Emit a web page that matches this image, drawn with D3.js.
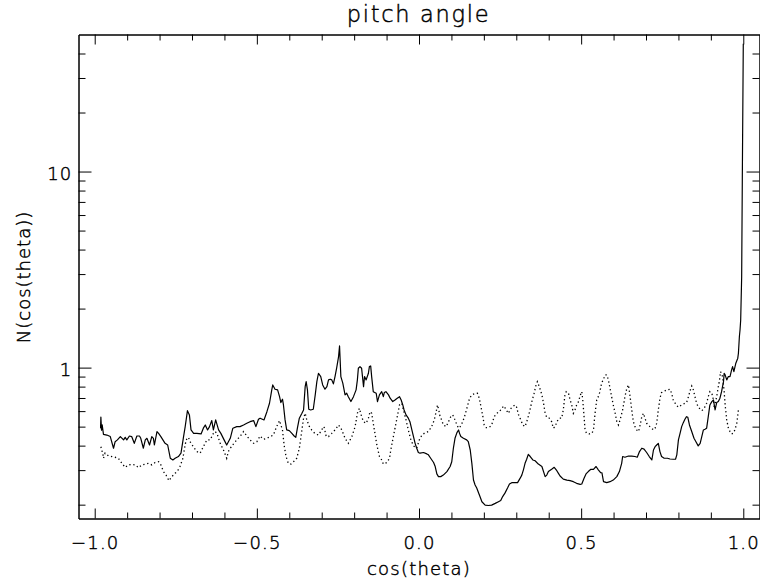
<!DOCTYPE html>
<html>
<head>
<meta charset="utf-8">
<script src="https://cdn.jsdelivr.net/npm/d3@7"></script>
<style>
  html, body { margin: 0; padding: 0; background: #fff; }
  svg { display: block; }
  text { font-family: "DejaVu Sans", sans-serif; font-weight: 200; fill: #000; stroke: #000; stroke-width: 0.45px; }
</style>
</head>
<body>
<svg id="chart" width="760" height="584"></svg>
<script>
// Distribution of cos(pitch angle): solid and dotted curves
const solidCos = [-0.982,-0.981,-0.979,-0.977,-0.973,-0.9625,-0.952,-0.942,-0.937,-0.930,-0.921,-0.911,-0.906,-0.901,-0.893,-0.886,-0.878,-0.870,-0.862,-0.858,-0.850,-0.844,-0.839,-0.831,-0.824,-0.819,-0.816,-0.808,-0.803,-0.796,-0.783,-0.775,-0.767,-0.759,-0.752,-0.742,-0.734,-0.726,-0.721,-0.714,-0.708,-0.703,-0.695,-0.685,-0.672,-0.665,-0.659,-0.652,-0.646,-0.639,-0.634,-0.627,-0.618,-0.611,-0.601,-0.593,-0.582,-0.574,-0.562,-0.552,-0.541,-0.531,-0.521,-0.510,-0.503,-0.495,-0.490,
-0.478,-0.469,-0.461,-0.454,-0.451,-0.444,-0.436,-0.430,-0.426,-0.421,-0.418,-0.413,-0.408,-0.400,-0.392,-0.385,-0.380,-0.375,-0.369,-0.361,-0.356,-0.351,-0.348,-0.344,-0.340,-0.334,-0.326,-0.320,-0.315,-0.310,-0.303,-0.297,-0.290,-0.284,-0.279,-0.274,-0.269,-0.264,-0.259,-0.254,-0.248,-0.245,-0.241,-0.235,-0.228,-0.223,-0.218,-0.210,-0.202,-0.194,-0.190,-0.187,-0.182,-0.177,-0.171,-0.168,-0.163,-0.156,-0.153,-0.149,-0.146,-0.141,-0.132,-0.128,-0.122,-0.115,-0.110,-0.107,-0.102,-0.094,-0.089,-0.081,-0.074,-0.067,-0.060,-0.055,-0.050,-0.046,-0.040,-0.033,-0.028,-0.022,-0.017,-0.012,-0.007,-0.002,0.003,
0.014,0.024,0.029,0.036,0.045,0.050,0.055,0.060,0.067,0.075,0.086,0.096,0.101,0.106,0.111,0.117,0.122,0.125,0.129,0.137,0.147,0.152,0.158,0.163,0.168,0.173,0.178,0.188,0.194,0.204,0.214,0.224,0.235,0.245,0.252,0.258,0.265,0.273,0.279,0.286,0.293,0.304,0.312,0.317,0.322,0.327,0.332,0.337,0.343,0.351,0.358,0.368,0.379,0.389,0.394,0.399,0.409,0.417,0.425,0.430,0.435,0.445,0.456,0.466,0.476,0.486,0.497,
0.502,0.509,0.515,0.522,0.530,0.538,0.546,0.553,0.560,0.564,0.569,0.579,0.589,0.599,0.610,0.618,0.625,0.628,0.635,0.646,0.656,0.666,0.673,0.680,0.687,0.694,0.702,0.710,0.718,0.723,0.728,0.733,0.738,0.743,0.748,0.756,0.766,0.774,0.784,0.791,0.795,0.800,0.805,0.810,0.815,0.820,0.825,0.829,0.834,0.841,0.848,0.854,0.861,0.867,0.872,0.877,0.882,0.887,0.892,0.897,0.903,0.908,0.913,0.918,0.923,0.928,0.933,0.939,0.941,0.944,0.949,0.954,0.959,0.964,0.967,0.971,0.977,0.983,0.985,0.988,0.990,0.992,0.995,0.997,1.000];
const solidN = [0.49,0.56,0.48,0.51,0.457,0.453,0.445,0.388,0.419,0.428,0.445,0.428,0.441,0.428,0.448,0.445,0.411,0.448,0.448,0.436,0.388,0.428,0.436,0.403,0.445,0.436,0.403,0.472,0.462,0.445,0.411,0.403,0.345,0.338,0.345,0.352,0.366,0.445,0.500,0.603,0.574,0.481,0.462,0.462,0.459,0.491,0.510,0.481,0.500,0.537,0.481,0.541,0.481,0.462,0.428,0.403,0.436,0.491,0.500,0.500,0.510,0.520,0.530,0.537,0.500,0.545,0.552,
0.541,0.596,0.658,0.770,0.816,0.776,0.770,0.711,0.663,0.690,0.645,0.541,0.481,0.477,0.462,0.448,0.441,0.491,0.552,0.585,0.608,0.800,0.848,0.770,0.613,0.608,0.613,0.726,0.848,0.936,0.900,0.816,0.776,0.800,0.866,0.873,0.866,0.826,0.900,0.993,1.138,1.290,0.900,0.833,0.726,0.740,0.711,0.671,0.711,0.770,0.866,0.993,1.012,0.993,0.800,0.900,0.866,0.936,1.012,1.020,0.900,0.754,0.740,0.671,0.726,0.754,0.711,0.746,0.754,0.726,0.698,0.671,0.684,0.698,0.711,0.684,0.645,0.608,0.574,0.552,0.530,0.481,0.445,0.411,0.388,0.369,0.366,
0.369,0.363,0.359,0.345,0.328,0.313,0.287,0.278,0.278,0.283,0.295,0.313,0.331,0.388,0.436,0.466,0.481,0.462,0.445,0.436,0.428,0.419,0.380,0.325,0.267,0.252,0.243,0.220,0.207,0.199,0.198,0.199,0.203,0.207,0.210,0.220,0.229,0.243,0.255,0.259,0.259,0.259,0.273,0.283,0.301,0.325,0.341,0.361,0.352,0.338,0.335,0.322,0.313,0.278,0.283,0.295,0.303,0.310,0.298,0.289,0.280,0.270,0.267,0.265,0.262,0.257,0.254,
0.255,0.273,0.287,0.295,0.303,0.303,0.313,0.301,0.291,0.291,0.262,0.259,0.262,0.267,0.278,0.295,0.325,0.352,0.349,0.354,0.354,0.352,0.349,0.373,0.388,0.384,0.369,0.352,0.338,0.380,0.395,0.403,0.411,0.373,0.352,0.345,0.345,0.342,0.341,0.341,0.359,0.428,0.462,0.500,0.524,0.545,0.562,0.558,0.510,0.472,0.436,0.419,0.399,0.411,0.445,0.481,0.485,0.491,0.562,0.645,0.671,0.684,0.608,0.663,0.671,0.698,0.754,0.848,0.936,0.918,0.866,0.900,0.900,0.973,1.012,0.954,1.053,1.117,1.184,1.44,1.56,1.75,2.9,9.07,44.8];

const dottedCos = [-0.981,-0.975,-0.973,-0.968,-0.957,-0.947,-0.937,-0.927,-0.916,-0.906,-0.896,-0.886,-0.875,-0.865,-0.855,-0.844,-0.834,-0.824,-0.814,-0.803,-0.796,-0.788,-0.780,-0.771,-0.762,-0.752,-0.744,-0.737,-0.728,-0.723,-0.718,-0.711,-0.706,-0.695,-0.685,-0.675,-0.665,-0.654,-0.644,-0.634,-0.629,-0.623,-0.613,-0.603,-0.593,-0.588,-0.582,-0.572,-0.562,-0.552,-0.541,-0.531,-0.521,-0.510,-0.500,-0.490,
-0.480,-0.469,-0.459,-0.449,-0.439,-0.430,-0.426,-0.421,-0.416,-0.410,-0.403,-0.395,-0.387,-0.377,-0.369,-0.361,-0.356,-0.351,-0.346,-0.338,-0.331,-0.320,-0.310,-0.303,-0.297,-0.293,-0.286,-0.279,-0.269,-0.259,-0.248,-0.238,-0.228,-0.218,-0.207,-0.197,-0.190,-0.184,-0.177,-0.171,-0.163,-0.156,-0.151,-0.146,-0.141,-0.135,-0.130,-0.122,-0.115,-0.110,-0.099,-0.091,-0.087,-0.081,-0.074,-0.069,-0.060,-0.053,-0.048,-0.040,-0.033,-0.025,-0.017,-0.007,0.001,
0.009,0.019,0.029,0.039,0.047,0.053,0.057,0.061,0.065,0.070,0.075,0.084,0.091,0.098,0.104,0.111,0.117,0.122,0.127,0.135,0.142,0.149,0.156,0.163,0.173,0.180,0.186,0.190,0.197,0.201,0.207,0.217,0.224,0.232,0.240,0.248,0.255,0.262,0.269,0.276,0.281,0.289,0.296,0.301,0.307,0.314,0.320,0.327,0.334,0.341,0.348,0.355,0.361,0.365,0.371,0.379,0.384,0.389,0.394,0.402,0.409,0.414,0.420,0.425,0.433,0.440,0.445,0.450,0.454,0.461,0.466,0.471,0.476,0.481,0.486,0.492,0.497,
0.502,0.505,0.509,0.512,0.517,0.525,0.533,0.538,0.543,0.548,0.553,0.558,0.563,0.569,0.574,0.579,0.584,0.589,0.594,0.599,0.605,0.610,0.615,0.620,0.628,0.635,0.641,0.646,0.651,0.656,0.661,0.666,0.671,0.677,0.682,0.687,0.692,0.697,0.702,0.712,0.723,0.728,0.733,0.738,0.743,0.748,0.754,0.764,0.774,0.779,0.784,0.793,0.800,0.810,0.820,0.825,0.831,0.836,0.841,0.846,0.851,0.856,0.861,0.867,0.872,0.877,0.882,0.887,0.892,0.897,0.903,0.908,0.911,0.913,0.918,0.923,0.926,0.930,0.936,0.941,0.944,0.949,0.954,0.959,0.964,0.969,0.974,0.980,0.985,0.988];
const dottedN = [0.395,0.363,0.345,0.366,0.354,0.352,0.349,0.345,0.325,0.310,0.319,0.321,0.319,0.309,0.319,0.322,0.325,0.319,0.328,0.331,0.319,0.295,0.283,0.265,0.278,0.289,0.298,0.313,0.345,0.388,0.428,0.441,0.419,0.393,0.373,0.366,0.395,0.428,0.428,0.462,0.472,0.462,0.411,0.380,0.345,0.373,0.388,0.408,0.428,0.445,0.472,0.448,0.428,0.411,0.419,0.448,
0.431,0.436,0.445,0.453,0.500,0.537,0.510,0.481,0.403,0.352,0.325,0.322,0.331,0.345,0.388,0.481,0.552,0.585,0.541,0.500,0.481,0.459,0.453,0.472,0.491,0.500,0.445,0.445,0.462,0.481,0.510,0.481,0.436,0.411,0.445,0.500,0.585,0.620,0.563,0.530,0.520,0.552,0.596,0.585,0.520,0.453,0.403,0.352,0.338,0.322,0.328,0.345,0.380,0.428,0.491,0.541,0.645,0.658,0.608,0.541,0.481,0.428,0.399,0.388,0.428,
0.453,0.466,0.472,0.500,0.541,0.596,0.645,0.608,0.562,0.541,0.510,0.500,0.530,0.562,0.574,0.541,0.510,0.491,0.500,0.530,0.574,0.632,0.698,0.726,0.740,0.740,0.698,0.645,0.562,0.510,0.494,0.496,0.510,0.562,0.585,0.596,0.620,0.638,0.608,0.585,0.613,0.632,0.645,0.628,0.574,0.541,0.510,0.500,0.541,0.596,0.671,0.740,0.816,0.848,0.800,0.726,0.658,0.585,0.558,0.552,0.530,0.491,0.500,0.530,0.552,0.552,0.608,0.726,0.754,0.740,0.684,0.645,0.585,0.608,0.645,0.671,0.720,
0.754,0.684,0.562,0.481,0.462,0.459,0.462,0.481,0.585,0.684,0.711,0.754,0.833,0.873,0.918,0.918,0.866,0.785,0.711,0.645,0.585,0.530,0.510,0.541,0.608,0.711,0.785,0.816,0.711,0.608,0.530,0.500,0.481,0.472,0.510,0.562,0.585,0.552,0.520,0.500,0.481,0.491,0.520,0.608,0.698,0.746,0.754,0.770,0.776,0.740,0.684,0.645,0.628,0.645,0.658,0.663,0.711,0.763,0.806,0.770,0.711,0.658,0.632,0.613,0.603,0.613,0.632,0.658,0.711,0.754,0.740,0.684,0.620,0.653,0.711,0.800,0.848,0.954,0.900,0.754,0.645,0.541,0.491,0.472,0.459,0.462,0.481,0.520,0.608,0.613];

// Axis ticks and labels
const xMajorTicks = [-1.0, -0.5, 0.0, 0.5, 1.0];
const xMinorTicks = [-0.9, -0.8, -0.7, -0.6, -0.4, -0.3, -0.2, -0.1, 0.1, 0.2, 0.3, 0.4, 0.6, 0.7, 0.8, 0.9];
const yMajorTicks = [1, 10];
const yMinorTicks = [0.2, 0.3, 0.4, 0.5, 0.6, 0.7, 0.8, 0.9, 2, 3, 4, 5, 6, 7, 8, 9, 20, 30, 40];
const titleText = "pitch angle";
const xTitle = "cos(theta)";
const yTitle = "N(cos(theta))";

const svg = d3.select("#chart");
const plotLeft = 78.5, plotRight = 759.5, plotTop = 34.5, plotBottom = 518.5;

const x = d3.scaleLinear().domain([-1.05, 1.05]).range([plotLeft, plotRight]);
const y = d3.scaleLog().domain([0.17, 50]).range([plotBottom, plotTop]);

const fontSize = 18;
const tickFont = g => g.selectAll("text")
  .attr("font-size", fontSize)
  .attr("letter-spacing", 1.2)
  .style("font-family", '"DejaVu Sans", sans-serif')
  .style("font-weight", 200)
  .attr("fill", "#000")
  .attr("stroke", "#000")
  .attr("stroke-width", 0.45);

const styleAxis = g => {
  g.select(".domain").attr("stroke", "#000").attr("stroke-width", 1);
  g.selectAll(".tick line").attr("stroke", "#000").attr("stroke-width", 1);
};

// Bottom axis: ticks point inward (up), labels below
svg.append("g").attr("transform", `translate(0,${plotBottom})`)
  .call(d3.axisBottom(x).tickValues(xMinorTicks).tickSizeInner(-6).tickSizeOuter(0).tickFormat(""))
  .call(styleAxis);
svg.append("g").attr("transform", `translate(0,${plotBottom})`)
  .call(d3.axisBottom(x).tickValues(xMajorTicks).tickSizeInner(-10).tickSizeOuter(0)
        .tickPadding(30.5).tickFormat(d3.format(".1f")))
  .call(styleAxis).call(tickFont)
  .call(g => g.selectAll("text").attr("dy", "0"));

// Top axis: ticks only, pointing down
svg.append("g").attr("transform", `translate(0,${plotTop})`)
  .call(d3.axisTop(x).tickValues(xMinorTicks).tickSizeInner(-6).tickSizeOuter(0).tickFormat(""))
  .call(styleAxis);
svg.append("g").attr("transform", `translate(0,${plotTop})`)
  .call(d3.axisTop(x).tickValues(xMajorTicks).tickSizeInner(-10).tickSizeOuter(0).tickFormat(""))
  .call(styleAxis);

// Left axis: ticks point right, labels to the left
svg.append("g").attr("transform", `translate(${plotLeft},0)`)
  .call(d3.axisLeft(y).tickValues(yMinorTicks).tickSizeInner(-7).tickSizeOuter(0).tickFormat(""))
  .call(styleAxis);
svg.append("g").attr("transform", `translate(${plotLeft},0)`)
  .call(d3.axisLeft(y).tickValues(yMajorTicks).tickSizeInner(-13).tickSizeOuter(0)
        .tickPadding(6).tickFormat(d3.format("d")))
  .call(styleAxis).call(tickFont)
  .call(g => g.selectAll("text").attr("dy", "0.45em"));

// Right axis: ticks only, pointing left
svg.append("g").attr("transform", `translate(${plotRight},0)`)
  .call(d3.axisRight(y).tickValues(yMinorTicks).tickSizeInner(-7).tickSizeOuter(0).tickFormat(""))
  .call(styleAxis);
svg.append("g").attr("transform", `translate(${plotRight},0)`)
  .call(d3.axisRight(y).tickValues(yMajorTicks).tickSizeInner(-13).tickSizeOuter(0).tickFormat(""))
  .call(styleAxis);

// Curves
const solid = solidCos.map((c, i) => [c, solidN[i]]);
const dotted = dottedCos.map((c, i) => [c, dottedN[i]]);
const line = d3.line().defined(d => d[1] > 0).x(d => x(d[0])).y(d => y(d[1]));

svg.append("defs").append("clipPath").attr("id", "plotClip")
  .append("rect").attr("x", plotLeft).attr("y", plotTop)
  .attr("width", plotRight - plotLeft).attr("height", plotBottom - plotTop);

const plot = svg.append("g").attr("clip-path", "url(#plotClip)");
plot.append("path").datum(dotted)
  .attr("d", line).attr("fill", "none").attr("stroke", "#000")
  .attr("stroke-width", 1.3).attr("stroke-dasharray", "1.3,2.7");
plot.append("path").datum(solid)
  .attr("d", line).attr("fill", "none").attr("stroke", "#000")
  .attr("stroke-width", 1.2).attr("stroke-linejoin", "round");

// Titles
svg.append("text").attr("x", 418.5).attr("y", 22).attr("text-anchor", "middle")
  .attr("font-size", 22.5).attr("letter-spacing", 1.7).text(titleText);
svg.append("text").attr("x", 419).attr("y", 575).attr("text-anchor", "middle")
  .attr("font-size", fontSize).attr("letter-spacing", 1.2).text(xTitle);
svg.append("text").attr("transform", "translate(30,277) rotate(-90)").attr("text-anchor", "middle")
  .attr("font-size", fontSize).attr("letter-spacing", 1.0).text(yTitle);
</script>
</body>
</html>
